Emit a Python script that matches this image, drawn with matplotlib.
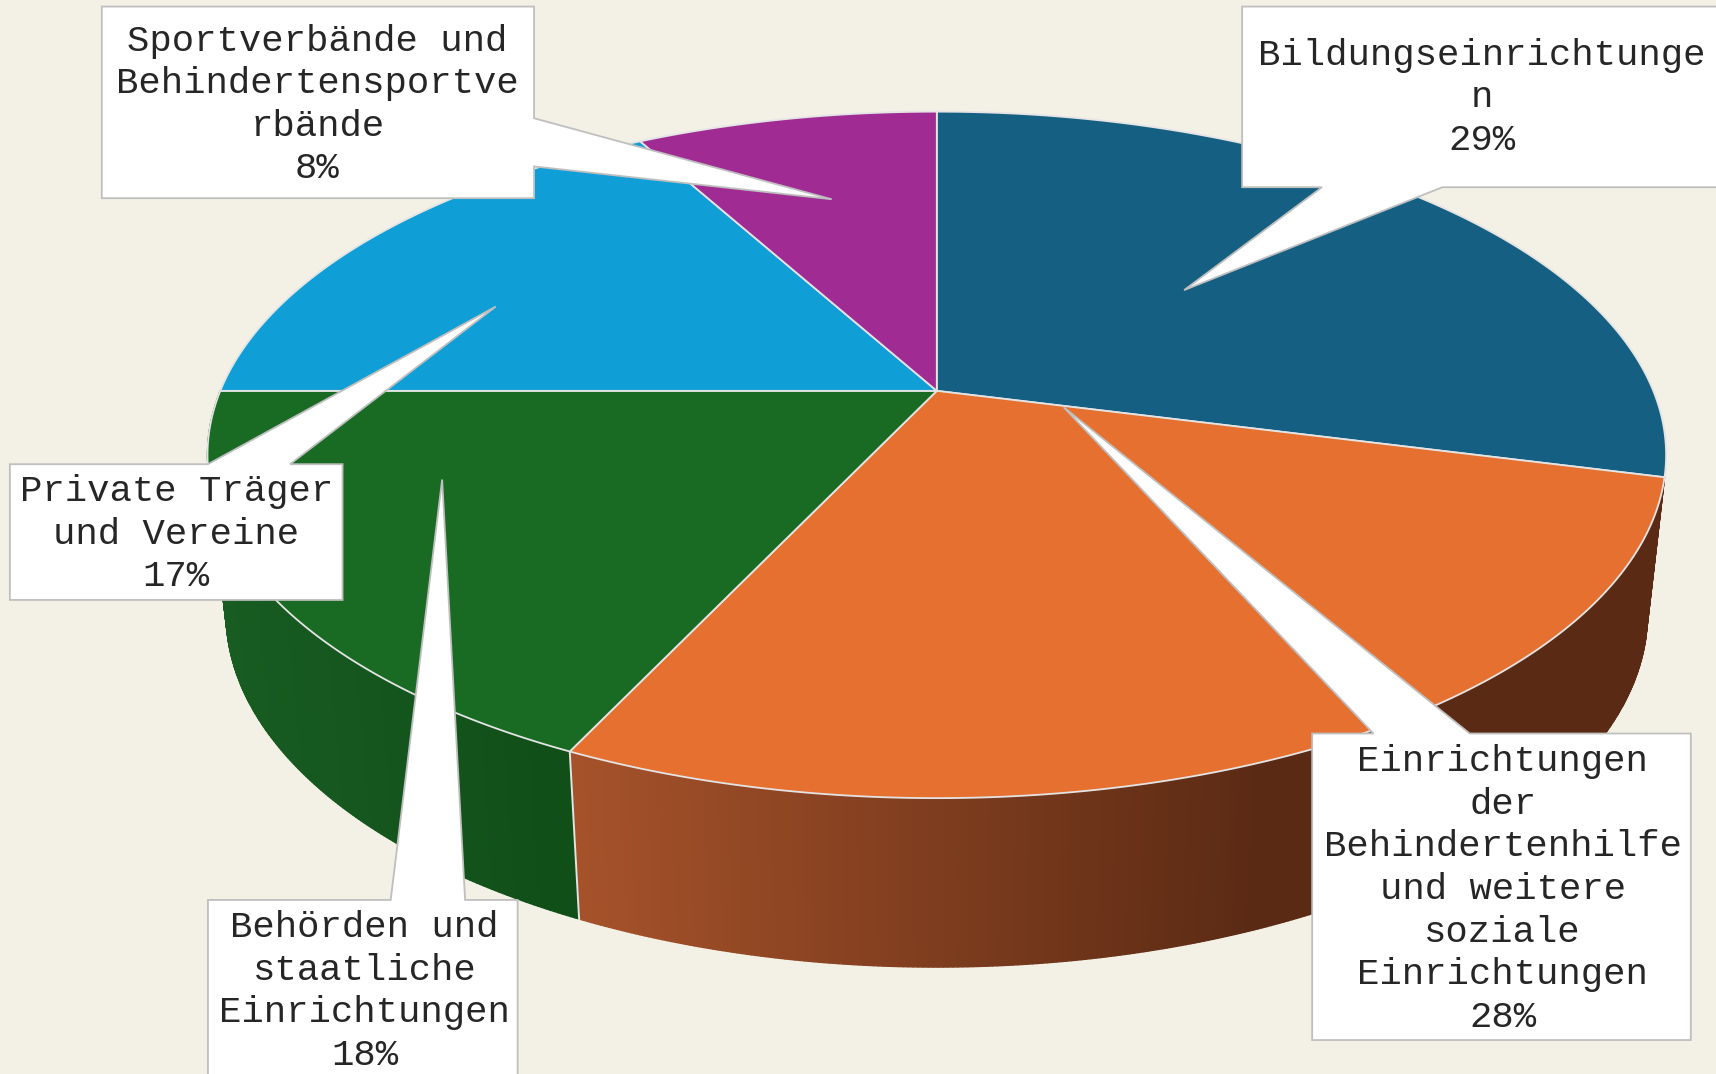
import numpy as np
import matplotlib
matplotlib.use("Agg")
import matplotlib.pyplot as plt
from matplotlib.colors import to_rgb
from matplotlib.collections import PolyCollection
from matplotlib.patches import Polygon

# ---- data ----
categories = ["Bildungseinrichtunge\nn",
              "Einrichtungen\nder\nBehindertenhilfe\nund weitere\nsoziale\nEinrichtungen",
              "Behörden und\nstaatliche\nEinrichtungen",
              "Private Träger\nund Vereine",
              "Sportverbände und\nBehindertensportve\nrbände"]
values = [29, 28, 18, 17, 8]
top_colors = ["#156082", "#E67030", "#196B24", "#0F9ED5", "#A02B93"]

# side wall shading (start colour, end colour, x range of the gradient); None = wall hidden
wall_shades = [None,
               ("#A5522A", "#5B2A14", 530, 1150),
               ("#185C22", "#114F19", 205, 500),
               None, None]
# slices whose start gets a visible divider on the wall
wall_dividers = [False, False, True, False, False]

BG = "#F3F0E6"
EDGE = "#E4E4E4"
BOX_EDGE = "#BFBFBF"
TEXT = "#262626"

# perspective of the pie: apex x, apex y, half width, half height
K = 0.1866
TOP = (856, 357, 654.7, 302.6)
BOTTOM = (856, 500, 638, 311.8)


def project(theta_deg, plane):
    cx, cy, a, b = plane
    t = np.radians(theta_deg)
    w = 1 + K * np.cos(t)
    return cx + a * np.sin(t) / w, cy - b * np.cos(t) / w


# callout layout: box (x0, y0, x1, y1), pointer base, tip, side of base, text centre
callouts = [
    dict(box=(1135, 6, 1600, 171), base=(1208, 1318), tip=(1082, 265), side="bottom", text=(1354, 89.5)),
    dict(box=(1199, 670, 1545, 950), base=(1255, 1343), tip=(972, 372), side="top", text=(1373, 812.5)),
    dict(box=(190, 822, 473, 1020), base=(357, 425), tip=(404, 438), side="top", text=(333, 905.5)),
    dict(box=(9, 424, 313, 548), base=(190, 265), tip=(453, 280), side="top", text=(161, 488)),
    dict(box=(93, 6, 488, 181), base=(108, 152), tip=(760, 182), side="right", text=(290, 96)),
]


def callout_path(c):
    x0, y0, x1, y1 = c["box"]
    b0, b1 = c["base"]
    tip = c["tip"]
    if c["side"] == "top":
        return [(x0, y0), (b0, y0), tip, (b1, y0), (x1, y0), (x1, y1), (x0, y1)]
    if c["side"] == "bottom":
        return [(x0, y0), (x1, y0), (x1, y1), (b1, y1), tip, (b0, y1), (x0, y1)]
    return [(x0, y0), (x1, y0), (x1, b0), tip, (x1, b1), (x1, y1), (x0, y1)]


plt.rcParams["font.family"] = ["Liberation Mono", "DejaVu Sans Mono"]
fig = plt.figure(figsize=(17.16, 10.74), dpi=100, facecolor=BG)
ax = fig.add_axes([0, 0, 1, 1])
ax.set_xlim(0, 1568)
ax.set_ylim(981, 0)
ax.axis("off")

fractions = np.array(values) / sum(values)
edges = np.concatenate([[0], np.cumsum(fractions)]) * 360

# side walls
for start, stop, shade, divider in zip(edges[:-1], edges[1:], wall_shades, wall_dividers):
    if shade is None:
        continue
    c0, c1, xa, xb = shade
    c0, c1 = np.array(to_rgb(c0)), np.array(to_rgb(c1))
    stop_w = min(stop, 270)
    th = np.linspace(start, stop_w, int((stop_w - start) * 3) + 2)
    quads, cols = [], []
    for t0, t1 in zip(th[:-1], th[1:]):
        p = [project(t0, TOP), project(t1, TOP), project(t1, BOTTOM), project(t0, BOTTOM)]
        quads.append(p)
        xm = np.mean([q[0] for q in p])
        f = np.clip((xm - xa) / (xb - xa), 0, 1)
        cols.append(tuple(c0 + (c1 - c0) * f))
    ax.add_collection(PolyCollection(quads, facecolors=cols, edgecolors=cols, linewidths=1.0, zorder=1))
    if divider:
        ax.plot(*zip(project(start, TOP), project(start, BOTTOM)), color=EDGE, lw=1.4, zorder=2)

# top face
for start, stop, col in zip(edges[:-1], edges[1:], top_colors):
    th = np.linspace(start, stop, int(stop - start) * 2 + 2)
    x, y = project(th, TOP)
    pts = [(TOP[0], TOP[1])] + list(zip(x, y))
    ax.add_patch(Polygon(pts, closed=True, facecolor=col, edgecolor=EDGE, lw=1.3, joinstyle="round", zorder=3))

# callouts
for name, val, c in zip(categories, values, callouts):
    ax.add_patch(Polygon(callout_path(c), closed=True, facecolor="white", edgecolor=BOX_EDGE,
                         lw=1.3, joinstyle="miter", zorder=4))
    ax.text(c["text"][0], c["text"][1], f"{name}\n{val}%", ha="center", va="center",
            fontsize=26.8, color=TEXT, linespacing=1.28, zorder=5, clip_on=False)

fig.savefig("out.png", dpi=100, facecolor=BG)
